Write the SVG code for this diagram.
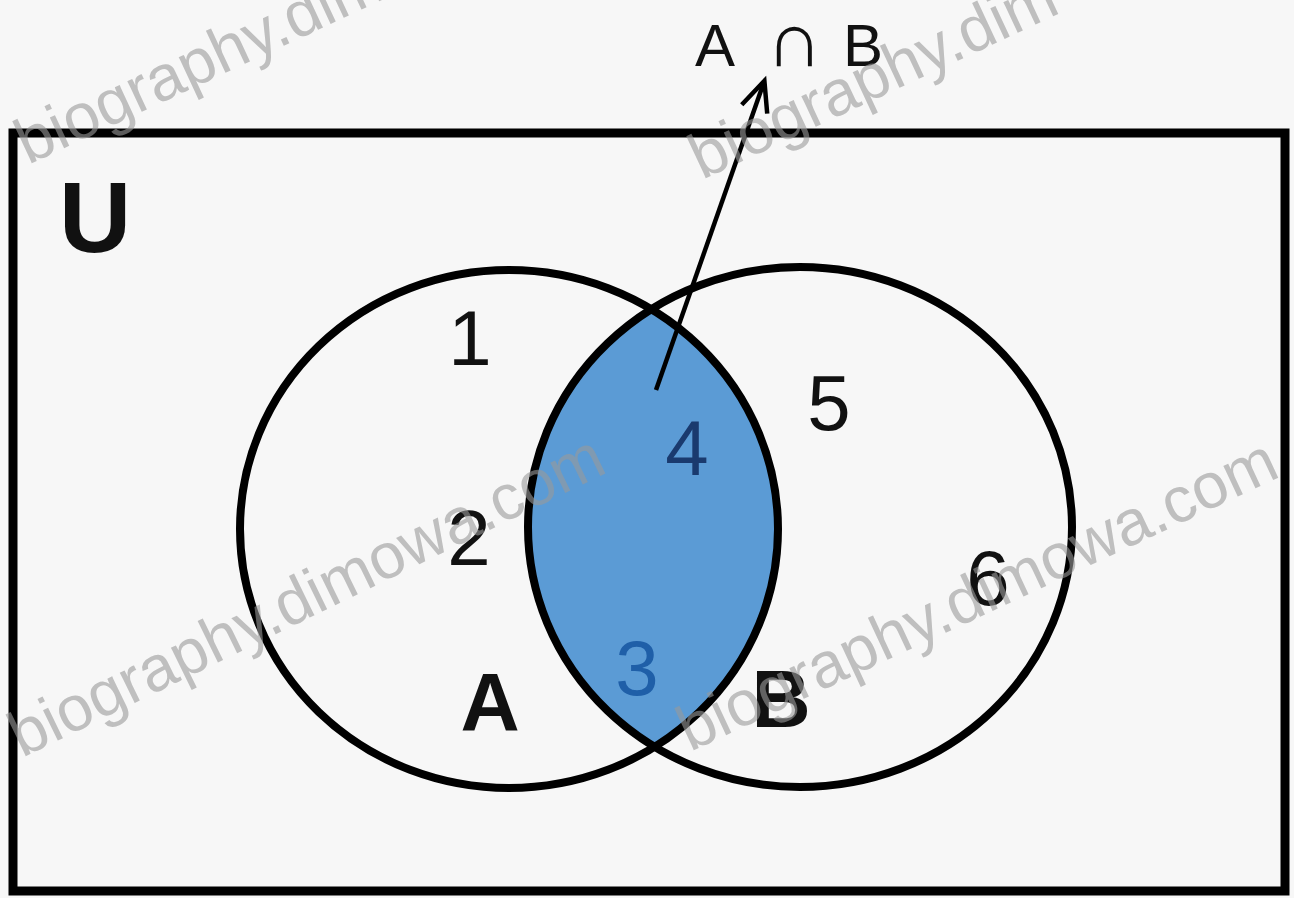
<svg xmlns="http://www.w3.org/2000/svg" width="1294" height="898" viewBox="0 0 1294 898">
<style>
.lbl{font-family:"Liberation Sans",Arial,sans-serif;fill:#111;text-anchor:middle}
.num{font-size:78px}
.bold{font-weight:bold;font-size:82px}
.wm{font-family:"Liberation Sans",Arial,sans-serif;font-size:64px;fill:#9a9a9a;opacity:0.6}
.ring{fill:none;stroke:#000;stroke-width:8}
</style>
<defs>
<clipPath id="clipA"><ellipse cx="509" cy="529" rx="269" ry="259"/></clipPath>
<marker id="arr" viewBox="0 0 10 10" refX="9.6" refY="5" markerWidth="30" markerHeight="30" orient="auto" markerUnits="userSpaceOnUse" overflow="visible">
<path d="M0,0.5 L10,5 L0,9.5" fill="none" stroke="#000" stroke-width="1.5" stroke-linejoin="miter"/>
</marker>
</defs>
<rect width="1294" height="898" fill="#f7f7f7"/>
<g id="universe">
<rect x="13" y="133" width="1272" height="758" fill="#f7f7f7" stroke="#000" stroke-width="9"/>
<text class="lbl" x="95" y="252" style="font-size:100px;font-weight:bold">U</text>
</g>
<g id="intersection">
<ellipse cx="800" cy="527" rx="272" ry="260" fill="#5b9bd5" clip-path="url(#clipA)"/>
</g>
<g id="setA">
<ellipse class="ring" cx="509" cy="529" rx="269" ry="259"/>
<text class="lbl bold" x="490" y="730">A</text>
</g>
<g id="setB">
<ellipse class="ring" cx="800" cy="527" rx="272" ry="260"/>
<text class="lbl bold" x="781" y="727">B</text>
</g>
<g id="elements">
<text class="lbl num" x="470" y="365">1</text>
<text class="lbl num" x="469" y="565">2</text>
<text class="lbl num" x="637" y="695" style="fill:#1f5fa8">3</text>
<text class="lbl num" x="687" y="475" style="fill:#1a3a6e">4</text>
<text class="lbl num" x="829" y="430">5</text>
<text class="lbl num" x="988" y="605">6</text>
</g>
<g id="connectors">
<line x1="656" y1="390" x2="764" y2="82" stroke="#000" stroke-width="4.5" marker-end="url(#arr)"/>
</g>
<g id="label-AnB">
<text y="66" style="font-family:'Liberation Sans',Arial,sans-serif;font-size:60px;fill:#111"><tspan x="695">A </tspan><tspan x="766" style="font-size:78px">∩ </tspan><tspan x="843">B</tspan></text>
</g>
<g id="watermarks">
<text class="wm" transform="translate(28,165) rotate(-25)">biography.dim</text>
<text class="wm" transform="translate(702,180) rotate(-25)">biography.dim</text>
<text class="wm" transform="translate(22,758) rotate(-26)">biography.dimowa.com</text>
<text class="wm" transform="translate(690,752) rotate(-25)">biography.dimowa.com</text>
</g>
</svg>
